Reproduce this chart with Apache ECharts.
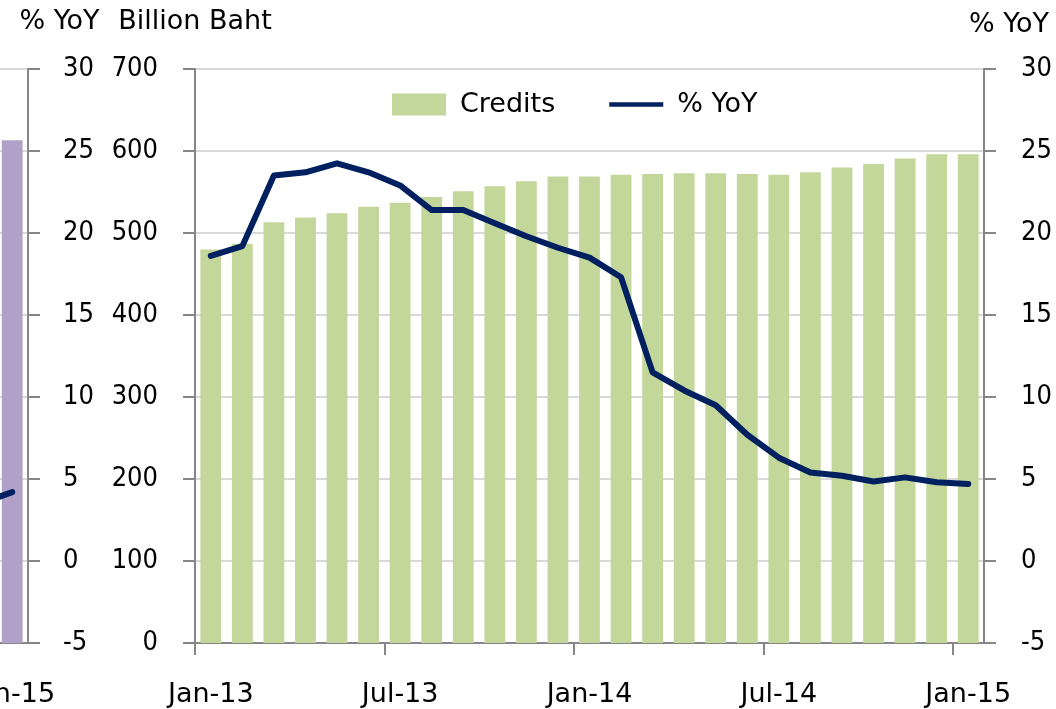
<!DOCTYPE html>
<html>
<head>
<meta charset="utf-8">
<script src="https://cdn.jsdelivr.net/npm/echarts@6/dist/echarts.min.js"></script>
<style>
html,body{margin:0;padding:0;background:#fff;}
#chart{width:1056px;height:709px;}
</style>
</head>
<body>
<div id="chart"></div>
<script>
// Main panel data
const categories = ['Jan-13','Feb-13','Mar-13','Apr-13','May-13','Jun-13','Jul-13','Aug-13','Sep-13','Oct-13','Nov-13','Dec-13',
  'Jan-14','Feb-14','Mar-14','Apr-14','May-14','Jun-14','Jul-14','Aug-14','Sep-14','Oct-14','Nov-14','Dec-14','Jan-15'];
const credits = [480, 487, 513, 519, 524, 532, 537, 544, 551, 557, 563, 569,
  569, 571, 572, 573, 573, 572, 571, 574, 580, 584, 591, 596, 596];
const yoy = [18.6, 19.2, 23.5, 23.7, 24.25, 23.7, 22.9, 21.4, 21.4, 20.6, 19.8, 19.1,
  18.5, 17.3, 11.5, 10.4, 9.5, 7.7, 6.3, 5.4, 5.2, 4.85, 5.1, 4.8, 4.7];
const leftTicks = [0, 100, 200, 300, 400, 500, 600, 700];
const rightTicks = [-5, 0, 5, 10, 15, 20, 25, 30];
const monthTickStep = 6; // x-axis tick every 6 months (Jan / Jul)

// Neighbouring (cropped) panel on the left edge
const sideCategories = ['Dec-14', 'Jan-15'];
const sideCredits = [null, 613];
const sideYoy = [3.5, 4.2];

const FONT = '"DejaVu Sans", Verdana, sans-serif';
const NUMFONT = '"DejaVu Sans Condensed", "DejaVu Sans", sans-serif';
const AXIS_COLOR = '#868686';
const GRID_COLOR = '#d9d9d9';
const NAVY = '#002060';

const chart = echarts.init(document.getElementById('chart'), null, {renderer: 'canvas'});

const axisLine = {show: true, onZero: false, lineStyle: {color: AXIS_COLOR, width: 2}};
const yTick = {show: true, inside: false, length: 12, lineStyle: {color: AXIS_COLOR, width: 2}};

chart.setOption({
  animation: false,
  backgroundColor: '#ffffff',
  textStyle: {fontFamily: FONT, color: '#000'},
  legend: {
    data: [
      {name: 'Credits', icon: 'rect'},
      {name: '% YoY', icon: 'path://M0,0L0.01,0Z M0,8.5L57,8.5L57,13.5L0,13.5Z M0,22L0.01,22Z'}
    ],
    left: 392,
    top: 91,
    padding: 0,
    itemWidth: 54,
    itemHeight: 22,
    itemGap: 54,
    textStyle: {fontSize: 27, fontFamily: FONT, color: '#000', padding: [0, 0, 0, 9]}
  },
  grid: [
    {left: 195, right: 72, top: 69, bottom: 66, containLabel: false, outerBoundsMode: 'none'},
    {left: -35.2, width: 63.2, top: 69, bottom: 66, containLabel: false, outerBoundsMode: 'none'},
    {left: 195, right: 103, top: 69, bottom: 66, containLabel: false, outerBoundsMode: 'none'}
  ],
  xAxis: [
    {
      type: 'category', gridIndex: 0, data: categories, boundaryGap: true,
      axisLine: axisLine,
      axisTick: {show: false},
      axisLabel: {interval: monthTickStep - 1, margin: 38, fontSize: 27, fontFamily: FONT, color: '#000'},
      splitLine: {show: false}
    },
    {
      type: 'category', gridIndex: 1, data: sideCategories, boundaryGap: true,
      axisLine: axisLine,
      axisTick: {show: false},
      axisLabel: {interval: function (i) { return i === 1; }, margin: 38, fontSize: 27, fontFamily: FONT, color: '#000'},
      splitLine: {show: false}
    },
    {
      // tick marks at the start of each Jan / Jul month band
      type: 'value', gridIndex: 2, min: 0, max: categories.length - 1, interval: monthTickStep,
      axisLine: {show: false, onZero: false},
      axisLabel: {show: false},
      axisTick: {show: true, length: 12, lineStyle: {color: AXIS_COLOR, width: 2}},
      splitLine: {show: false}
    }
  ],
  yAxis: [
    {
      type: 'value', gridIndex: 0, position: 'left',
      min: leftTicks[0], max: leftTicks[leftTicks.length - 1], interval: leftTicks[1] - leftTicks[0],
      axisLine: axisLine, axisTick: yTick,
      splitLine: {show: true, lineStyle: {color: GRID_COLOR, width: 2}},
      axisLabel: {margin: 37, fontSize: 27, fontFamily: NUMFONT, color: '#000'},
      name: 'Billion Baht', nameLocation: 'end', nameGap: 34,
      nameTextStyle: {fontSize: 27, fontFamily: FONT, color: '#000', align: 'center'}
    },
    {
      type: 'value', gridIndex: 0, position: 'right',
      min: rightTicks[0], max: rightTicks[rightTicks.length - 1], interval: rightTicks[1] - rightTicks[0],
      axisLine: axisLine, axisTick: yTick,
      splitLine: {show: false},
      axisLabel: {margin: 37, fontSize: 27, fontFamily: NUMFONT, color: '#000'},
      name: '% YoY', nameLocation: 'end', nameGap: 31,
      nameTextStyle: {fontSize: 27, fontFamily: FONT, color: '#000', align: 'center', padding: [0, 0, 0, 50]}
    },
    {
      type: 'value', gridIndex: 1, position: 'right',
      min: rightTicks[0], max: rightTicks[rightTicks.length - 1], interval: rightTicks[1] - rightTicks[0],
      axisLine: axisLine, axisTick: yTick,
      splitLine: {show: true, lineStyle: {color: GRID_COLOR, width: 2}},
      axisLabel: {margin: 35, fontSize: 27, fontFamily: NUMFONT, color: '#000'},
      name: '% YoY', nameLocation: 'end', nameGap: 34,
      nameTextStyle: {fontSize: 27, fontFamily: FONT, color: '#000', align: 'center', padding: [0, 0, 0, 63]}
    },
    {
      type: 'value', gridIndex: 1, show: false,
      min: leftTicks[0], max: leftTicks[leftTicks.length - 1], interval: leftTicks[1] - leftTicks[0],
      splitLine: {show: false}
    },
    {
      type: 'value', gridIndex: 2, show: false, min: 0, max: 1,
      splitLine: {show: false}
    }
  ],
  series: [
    {
      name: 'Credits', type: 'bar', xAxisIndex: 0, yAxisIndex: 0,
      data: credits, barWidth: '66%',
      itemStyle: {color: '#c4d79b'}, z: 2
    },
    {
      name: '% YoY', type: 'line', xAxisIndex: 0, yAxisIndex: 1,
      data: yoy, symbol: 'none', smooth: false,
      itemStyle: {color: NAVY},
      lineStyle: {color: NAVY, width: 6, cap: 'round', join: 'round'}, z: 3
    },
    {
      name: 'Side credits', type: 'bar', xAxisIndex: 1, yAxisIndex: 3,
      data: sideCredits, barWidth: '66%',
      itemStyle: {color: '#b1a0c7'}, z: 2
    },
    {
      name: 'Side % YoY', type: 'line', xAxisIndex: 1, yAxisIndex: 2,
      data: sideYoy, symbol: 'none', smooth: false,
      lineStyle: {color: NAVY, width: 6, cap: 'round', join: 'round'}, z: 3
    }
  ]
});
</script>
</body>
</html>
